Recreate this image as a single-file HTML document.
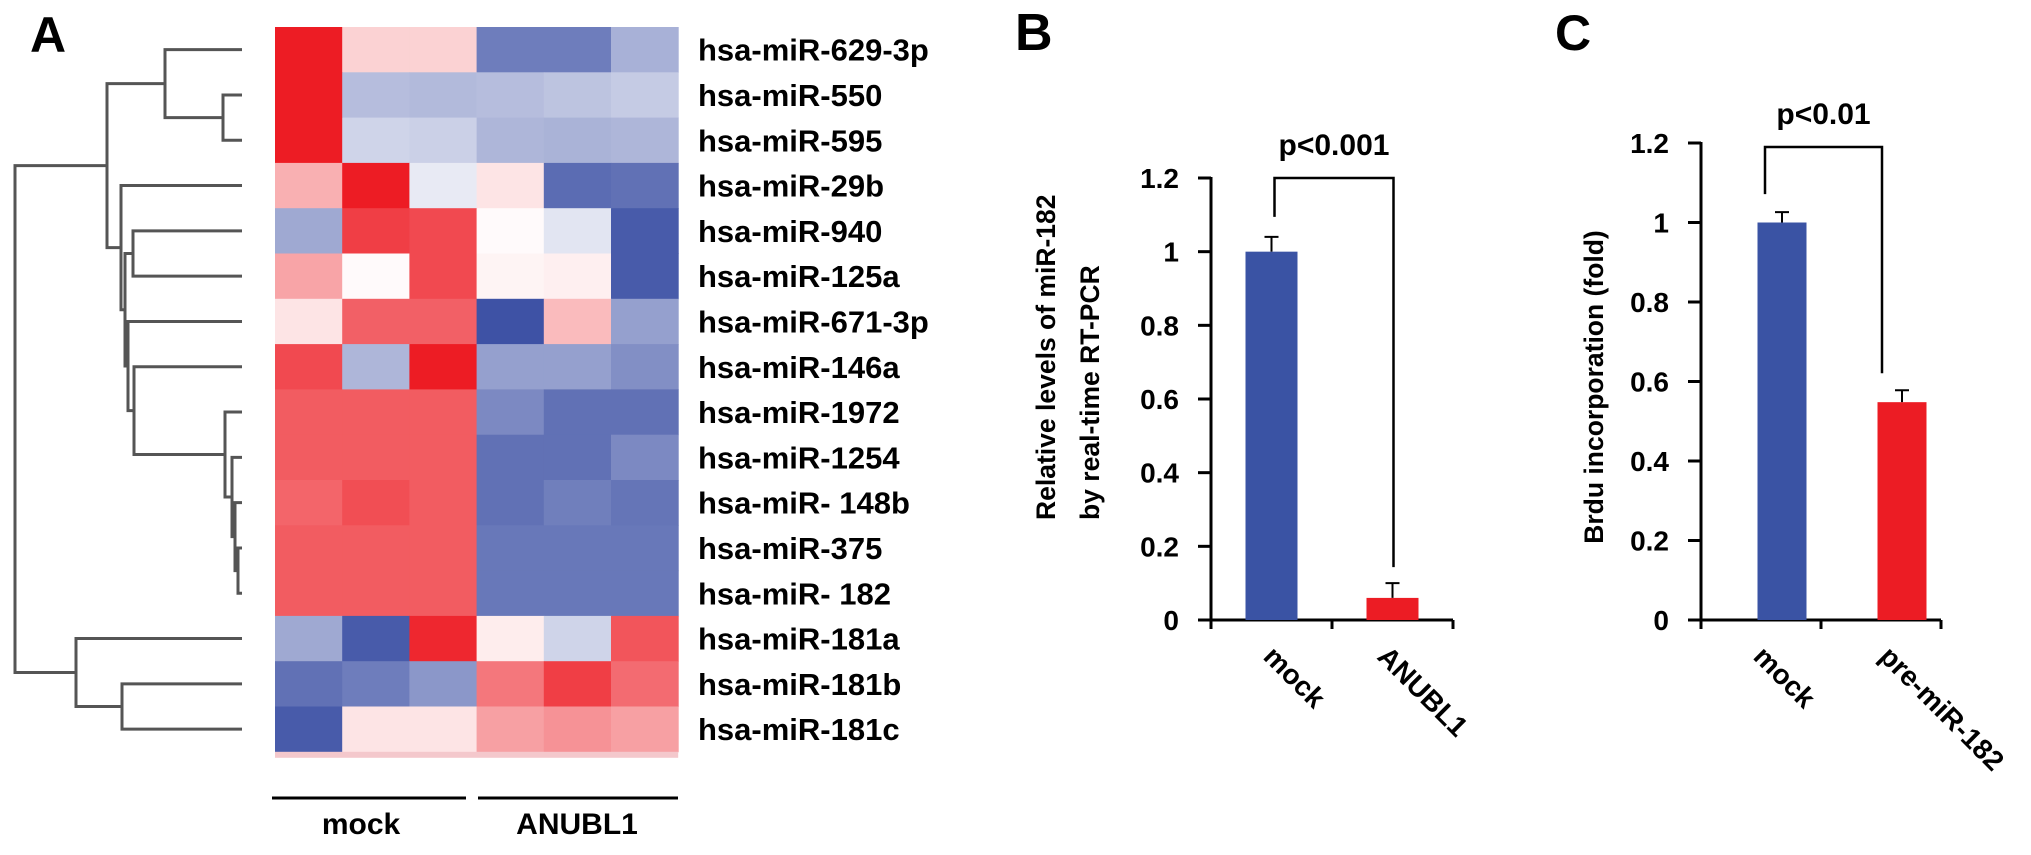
<!DOCTYPE html>
<html><head><meta charset="utf-8"><style>
html,body{margin:0;padding:0;background:#fff;}
svg{display:block;font-family:"Liberation Sans",Arial,sans-serif;font-weight:bold;}
</style></head><body>
<svg id="fig" width="2031" height="855" viewBox="0 0 2031 855" xmlns="http://www.w3.org/2000/svg">
<text x="30" y="52" font-size="50">A</text>
<text x="1015" y="50" font-size="52">B</text>
<text x="1555" y="50" font-size="50">C</text>
<g id="heat"></g>
<g id="dendro"></g>
<line x1="272" y1="798" x2="466" y2="798" stroke="#000" stroke-width="3"/>
<line x1="478" y1="798" x2="678" y2="798" stroke="#000" stroke-width="3"/>
<text x="361" y="834" font-size="30" text-anchor="middle">mock</text>
<text x="577" y="834" font-size="30" text-anchor="middle">ANUBL1</text>
<g id="chartB"></g>
<g id="chartC"></g>
</svg>
<script>
const NS="http://www.w3.org/2000/svg";
// ---- heatmap data ----
const heatRows=["hsa-miR-629-3p","hsa-miR-550","hsa-miR-595","hsa-miR-29b","hsa-miR-940","hsa-miR-125a","hsa-miR-671-3p","hsa-miR-146a","hsa-miR-1972","hsa-miR-1254","hsa-miR- 148b","hsa-miR-375","hsa-miR- 182","hsa-miR-181a","hsa-miR-181b","hsa-miR-181c"];
const heatVals=[
[1.0,0.2,0.2,-0.75,-0.75,-0.45],
[1.0,-0.38,-0.4,-0.38,-0.34,-0.3],
[1.0,-0.25,-0.27,-0.42,-0.44,-0.42],
[0.35,1.0,-0.12,0.12,-0.85,-0.82],
[-0.5,0.85,0.8,0.02,-0.15,-0.95],
[0.4,0.02,0.8,0.05,0.07,-0.95],
[0.12,0.7,0.7,-1.0,0.3,-0.55],
[0.8,-0.42,1.0,-0.55,-0.55,-0.65],
[0.72,0.72,0.72,-0.68,-0.82,-0.82],
[0.72,0.72,0.72,-0.82,-0.82,-0.68],
[0.68,0.78,0.72,-0.82,-0.74,-0.8],
[0.72,0.72,0.72,-0.78,-0.78,-0.78],
[0.72,0.72,0.72,-0.78,-0.78,-0.78],
[-0.5,-0.95,0.95,0.08,-0.25,0.75],
[-0.82,-0.75,-0.6,0.6,0.85,0.65],
[-0.95,0.12,0.12,0.42,0.48,0.42]];
// dendrogram merges: [childA, childB, xPosition]; leaves are row indices, nodes are "n"+index
const dendroMerges=[
[1,2,223],["n0",0,165],[4,5,133],[11,12,238],[10,"n3",235],[9,"n4",232],[8,"n5",225],
[7,"n6",134],[6,"n7",128],["n2","n8",125],[3,"n9",121],["n1","n10",107],
[14,15,122],[13,"n12",76],["n11","n13",15]];
// ---- bar chart data ----
const catsB=["mock","ANUBL1"], valsB=[1.0,0.06], errB=[0.04,0.04];
const catsC=["mock","pre-miR-182"], valsC=[1.0,0.548], errC=[0.026,0.03];
const ticks=[0,0.2,0.4,0.6,0.8,1,1.2], tickLabels=["0","0.2","0.4","0.6","0.8","1","1.2"];

function el(tag,attrs,parent,txt){const e=document.createElementNS(NS,tag);for(const k in attrs)e.setAttribute(k,attrs[k]);if(txt!==undefined)e.textContent=txt;parent.appendChild(e);return e;}

// heatmap
const HX=275,HY=27,CW=67.2,RH=45.3;
function col(v){const t=Math.min(1,Math.abs(v));let c=v>=0?[237,28,36]:[62,82,165];
 return "rgb("+c.map(x=>Math.round(255+(x-255)*t)).join(",")+")";}
const heat=document.getElementById("heat");
heatVals.forEach((row,i)=>{row.forEach((v,j)=>{
 const r=el("rect",{x:HX+j*CW,y:HY+i*RH,width:CW+0.5,height:RH+0.5,fill:col(v)},heat);
 
 
});
 const t=el("text",{x:698,y:HY+i*RH+RH/2+11,"font-size":31},heat,heatRows[i]);
 
 
});
const strip=el("rect",{x:HX,y:HY+16*RH,width:6*CW,height:6,fill:"#f4c8cc"},heat);



// dendrogram
const dg=document.getElementById("dendro");
const nodes={};
function pos(c){if(typeof c==="number")return {x:242,y:HY+c*RH+RH/2};return nodes[c];}
dendroMerges.forEach((m,k)=>{const a=pos(m[0]),b=pos(m[1]),x=m[2];
 const p=el("path",{d:`M${a.x},${a.y}H${x}V${b.y}H${b.x}`,fill:"none",stroke:"#555","stroke-width":3},dg);
 
 
 nodes["n"+k]={x:x,y:(a.y+b.y)/2};});

// bar charts
function barChart(gid,cfg){
 const g=document.getElementById(gid);
 const y=v=>cfg.y0-(v/1.2)*(cfg.y0-cfg.y12);
 ticks.forEach((tv,i)=>{
  const l=el("line",{x1:cfg.ax-13,x2:cfg.ax,y1:y(tv),y2:y(tv),stroke:"#000","stroke-width":3},g);
  
  
  const t=el("text",{x:cfg.ax-32,y:y(tv)+10,"font-size":28,"text-anchor":"end"},g,tickLabels[i]);
  
  
 });
 const ya=el("line",{x1:cfg.ax,x2:cfg.ax,y1:y(1.2)-1,y2:y(0)+8,stroke:"#000","stroke-width":3},g);
 
 
 const xa=el("line",{x1:cfg.ax-13,x2:cfg.xend,y1:y(0),y2:y(0),stroke:"#000","stroke-width":3},g);
 
 
 [cfg.ax,(cfg.ax+cfg.xend)/2,cfg.xend].forEach(tx=>{
  const l=el("line",{x1:tx,x2:tx,y1:y(0),y2:y(0)+9,stroke:"#000","stroke-width":3},g);
  
  });
 const slot=(cfg.xend-cfg.ax)/2;
 const centers=[];
 cfg.vals.forEach((v,i)=>{
  const cx=cfg.ax+slot*(i+0.5)+cfg.shift; centers.push(cx);
  const b=el("rect",{x:cx-cfg.bw/2,y:y(v),width:cfg.bw,height:y(0)-y(v),fill:i==0?"#3a53a4":"#ec1c24"},g);
  
  
  const e=el("path",{d:`M${cx},${y(v)}V${y(v+cfg.err[i])}M${cx-7},${y(v+cfg.err[i])}H${cx+7}`,stroke:"#000","stroke-width":2,fill:"none"},g);
  
  
  const t=el("text",{x:cfg.lblx[i],y:y(0)+38,"font-size":28,transform:`rotate(45 ${cfg.lblx[i]} ${y(0)+38})`},g,cfg.cats[i]);
  
  
 });
 const bt=y(1.2)-cfg.brUp, l1=y(cfg.vals[0]+cfg.err[0])-cfg.gap0, l2=y(cfg.vals[1]+cfg.err[1])-cfg.gap1;
 const bx1=centers[0]+cfg.bl, bx2=centers[1]+cfg.brr;
 const br=el("path",{d:`M${bx1},${l1}V${bt}H${bx2}V${l2}`,stroke:"#000","stroke-width":2.5,fill:"none"},g);
 
 
 const p=el("text",{x:(bx1+bx2)/2,y:bt-23,"font-size":30,"text-anchor":"middle"},g,cfg.p);
 
 
 cfg.title.forEach((tt,i)=>{
  const t=el("text",{x:cfg.tx[i],y:cfg.ty,"font-size":26.5,"text-anchor":cfg.anchor,transform:`rotate(-90 ${cfg.tx[i]} ${cfg.ty})`},g,tt);
  
  
 });
}
barChart("chartB",{ax:1211,xend:1453,y0:620,y12:178,bw:52,shift:0,vals:valsB,err:errB,cats:catsB,
 lblx:[1262,1376],brUp:0,gap0:20,gap1:16,bl:3,brr:1,p:"p<0.001",title:["Relative levels of miR-182","by real-time RT-PCR"],tx:[1055,1099],ty:520,anchor:"start"});
barChart("chartC",{ax:1701,xend:1941,y0:620,y12:143,bw:49,shift:21,vals:valsC,err:errC,cats:catsC,
 lblx:[1752,1878],brUp:-4,gap0:18,gap1:17,bl:-17,brr:-20,p:"p<0.01",title:["Brdu incorporation (fold)"],tx:[1603],ty:387,anchor:"middle"});
</script>
</body></html>
